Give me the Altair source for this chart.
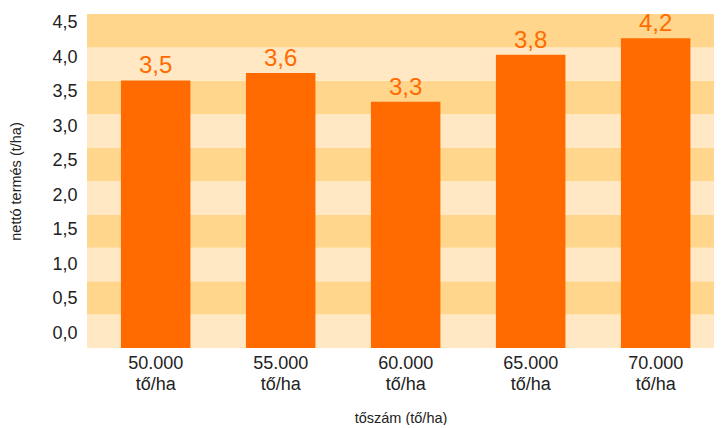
import altair as alt
import pandas as pd

# --- data ---
categories = ["50.000", "55.000", "60.000", "65.000", "70.000"]
unit_line = "tő/ha"
bar_heights = [3.54, 3.64, 3.26, 3.88, 4.10]      # bar heights as drawn
bar_labels = ["3,5", "3,6", "3,3", "3,8", "4,2"]  # printed values
y_ticks = [0.0, 0.5, 1.0, 1.5, 2.0, 2.5, 3.0, 3.5, 4.0, 4.5]
band_index = list(range(10))

ORANGE = "#FF6B00"
BAND_DARK = "#FFD68C"
BAND_LIGHT = "#FFE8C3"
FONT = "Liberation Sans"

bars_df = pd.DataFrame({"cat": categories, "h": bar_heights, "lab": bar_labels})
ticks_df = pd.DataFrame({"t": y_ticks})
bands_df = pd.DataFrame({"i": band_index})

x_enc = alt.X(
    "cat:N",
    sort=categories,
    scale=alt.Scale(paddingInner=0.444, paddingOuter=0.23, align=0.59),
    axis=alt.Axis(
        title="tőszám (tő/ha)",
        labelExpr=f"[datum.label, '{unit_line}']",
        labelAngle=0,
        labelFontSize=18,
        labelLineHeight=21,
        labelColor="#222222",
        labelPadding=6,
        labelFont=FONT,
        ticks=False,
        domain=False,
        titleFontSize=14.5,
        titleFontWeight="normal",
        titleColor="#222222",
        titleFont=FONT,
        titlePadding=18,
    ),
)

bands = (
    alt.Chart(bands_df)
    .transform_calculate(lo="datum.i * 0.5", hi="datum.i * 0.5 + 0.5",
                         dark="datum.i % 2 == 1 ? 'd' : 'l'")
    .mark_rect()
    .encode(
        x=alt.value(0),
        x2=alt.value("width"),
        y=alt.Y("lo:Q", scale=alt.Scale(domain=[0, 5], nice=False, zero=False), axis=None),
        y2="hi:Q",
        color=alt.Color("dark:N", scale=alt.Scale(domain=["d", "l"], range=[BAND_DARK, BAND_LIGHT]),
                        legend=None),
    )
)

axis_layer = (
    alt.Chart(ticks_df)
    .mark_rule(opacity=0)
    .encode(
        y=alt.Y(
            "t:Q",
            scale=alt.Scale(domain=[-0.2175, 4.627], nice=False, zero=False),
            axis=alt.Axis(
                orient="left",
                values=y_ticks,
                title="nettó termés (t/ha)",
                labelExpr="replace(format(datum.value, '.1f'), '.', ',')",
                labelFontSize=18,
                labelColor="#222222",
                labelFont=FONT,
                labelPadding=10,
                ticks=False,
                domain=False,
                grid=False,
                titleFontSize=14.5,
                titleFontWeight="normal",
                titleColor="#222222",
                titleFont=FONT,
                titlePadding=28,
            ),
        )
    )
)

bar_y = alt.Y("h:Q", scale=alt.Scale(domain=[0, 4.42], nice=False), axis=None)

bars = alt.Chart(bars_df).mark_bar(color=ORANGE).encode(x=x_enc, y=bar_y)

texts = (
    alt.Chart(bars_df)
    .mark_text(color=ORANGE, fontSize=24, font=FONT, baseline="alphabetic", dy=-7)
    .encode(x=alt.X("cat:N", sort=categories), y=bar_y, text="lab:N")
)

chart = (
    alt.layer(bands, axis_layer, bars, texts)
    .resolve_scale(y="independent")
    .properties(width=627, height=334,
                padding={"left": 0, "top": 4, "right": 0, "bottom": 0})
    .configure_view(stroke=None)
)

chart.save("out.html", embed_options={"renderer": "svg", "actions": False})
